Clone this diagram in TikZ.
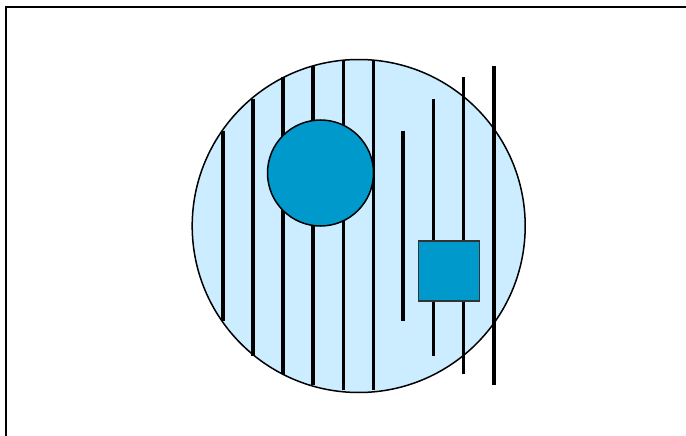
\documentclass[tikz,border=0pt]{standalone}
\definecolor{lightblue}{HTML}{CCECFF}
\definecolor{darkblue}{HTML}{0099CC}
\tikzset{
  bigdisc/.style={circle, draw=black, fill=lightblue, line width=1.5pt, inner sep=0pt, minimum size=333pt},
  smalldisc/.style={circle, draw=black, fill=darkblue, line width=1.5pt, inner sep=0pt, minimum size=106pt},
  blockbox/.style={rectangle, draw=black!80, fill=darkblue, line width=1.2pt, inner sep=0pt, minimum width=61pt, minimum height=60pt},
  rod/.style={line width=3.6pt, draw=black},
  framestyle/.style={line width=2pt, draw=black}
}
\begin{document}
\begin{tikzpicture}[x=1pt,y=-1pt]
\useasboundingbox (0,0) rectangle (686,436);
\clip (0,0) rectangle (686,436);
\draw[framestyle] (6,450) -- (6,7) -- (700,7);
\node[bigdisc] (big) at (358.7,226) {};
% rods
\foreach \i/\x/\ya/\yb in {1/222.8/130.7/321,2/252.9/99/355.5,3/283/77.5/373.8,4/313.2/66/384.5,5/343.6/61/389.5,6/373.6/61/390,7/403.2/130.7/321,8/433.4/99/355.5,9/463.6/77.5/373.8,10/493.8/66/384.5}{
  \coordinate (t\i) at (\x,\ya);
  \coordinate (b\i) at (\x,\yb);
  \draw[rod] (t\i) -- (b\i);
}
\node[smalldisc] (sd) at (320.5,173) {};
\node[blockbox] (sq) at (449.3,271) {};
\end{tikzpicture}
\end{document}
